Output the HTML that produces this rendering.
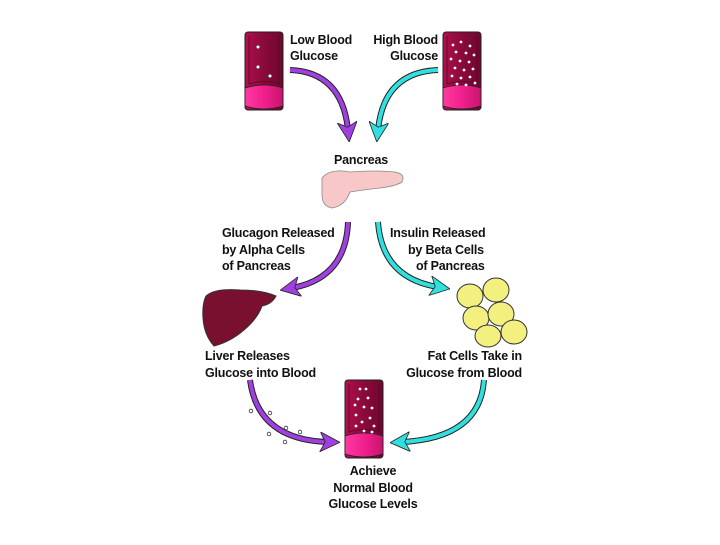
<!DOCTYPE html>
<html><head><style>
body{margin:0;background:#fff}
svg text{font-family:"Liberation Sans",Arial,sans-serif;font-weight:bold;font-size:12.5px;fill:#111;letter-spacing:-0.2px}
</style></head><body>
<svg width="720" height="540" viewBox="0 0 720 540" xmlns="http://www.w3.org/2000/svg">
<defs>
<linearGradient id="tb" x1="0" x2="1"><stop offset="0" stop-color="#b0104f"/><stop offset="0.5" stop-color="#8a0a3a"/><stop offset="1" stop-color="#6e072e"/></linearGradient>
<linearGradient id="bs" x1="0" x2="1"><stop offset="0" stop-color="#ff3aa0"/><stop offset="0.5" stop-color="#f0208c"/><stop offset="1" stop-color="#c8146e"/></linearGradient>
<marker id="ap" markerWidth="5" markerHeight="5" refX="2" refY="2.5" orient="auto"><path d="M0,0 L5,2.5 L0,5 L1.3,2.5z" fill="#a040e0" stroke="#222" stroke-width="0.2"/></marker>
<marker id="ac" markerWidth="5" markerHeight="5" refX="2" refY="2.5" orient="auto"><path d="M0,0 L5,2.5 L0,5 L1.3,2.5z" fill="#30e0e0" stroke="#222" stroke-width="0.2"/></marker>
<g id="tube">
<rect x="0" y="0" width="38" height="78" rx="3" fill="url(#tb)" stroke="#222" stroke-width="1"/>
<path d="M0,56 Q19,50 38,56 L38,74 Q19,80 0,74z" fill="url(#bs)" stroke="#222" stroke-width="0.8"/>
<path d="M4,4 L4,52 Q19,47 34,52 L34,4" fill="none" stroke="#5a0525" stroke-width="0.8"/>
</g>
</defs>
<use href="#tube" x="245" y="32"/>
<g fill="#fff" stroke="#333" stroke-width="0.5"><circle cx="258" cy="47" r="1.8"/><circle cx="258" cy="67" r="1.8"/><circle cx="270" cy="76" r="1.8"/></g>
<use href="#tube" x="443" y="32"/>
<g fill="#fff">
<circle cx="453" cy="45" r="1.4"/><circle cx="461" cy="42" r="1.4"/><circle cx="470" cy="46" r="1.4"/><circle cx="456" cy="52" r="1.4"/><circle cx="466" cy="53" r="1.4"/><circle cx="474" cy="55" r="1.4"/><circle cx="451" cy="59" r="1.4"/><circle cx="460" cy="61" r="1.4"/><circle cx="469" cy="62" r="1.4"/><circle cx="455" cy="68" r="1.4"/><circle cx="464" cy="70" r="1.4"/><circle cx="473" cy="69" r="1.4"/><circle cx="452" cy="76" r="1.4"/><circle cx="461" cy="78" r="1.4"/><circle cx="470" cy="77" r="1.4"/><circle cx="457" cy="84" r="1.4"/><circle cx="466" cy="85" r="1.4"/><circle cx="475" cy="83" r="1.4"/>
</g>
<text x="290" y="44">Low Blood</text><text x="290" y="60">Glucose</text>
<text x="438" y="44" text-anchor="end">High Blood</text><text x="438" y="60" text-anchor="end">Glucose</text>
<path d="M290,70 Q342,72 348,130" fill="none" stroke="#222" stroke-width="6"/>
<path d="M290,70 Q342,72 348,130" fill="none" stroke="#a040e0" stroke-width="4" marker-end="url(#ap)"/>
<path d="M438,70 Q384,72 378,130" fill="none" stroke="#222" stroke-width="6"/>
<path d="M438,70 Q384,72 378,130" fill="none" stroke="#30e0e0" stroke-width="4" marker-end="url(#ac)"/>
<text x="361" y="164" text-anchor="middle">Pancreas</text>
<path d="M322,178 Q330,168 350,172 Q375,170 395,172 Q406,174 402,182 Q396,186 380,188 Q362,190 350,192 Q345,206 332,208 Q322,206 322,195z" fill="#f8c8c8" stroke="#888" stroke-width="0.8"/>
<text x="222" y="237">Glucagon Released</text><text x="222" y="254">by Alpha Cells</text><text x="222" y="270">of Pancreas</text>
<text x="390" y="237">Insulin Released</text><text x="408" y="254">by Beta Cells</text><text x="416" y="270">of Pancreas</text>
<path d="M348,222 Q346,278 292,288" fill="none" stroke="#222" stroke-width="6"/>
<path d="M348,222 Q346,278 292,288" fill="none" stroke="#a040e0" stroke-width="4" marker-end="url(#ap)"/>
<path d="M378,222 Q382,278 438,287" fill="none" stroke="#222" stroke-width="6"/>
<path d="M378,222 Q382,278 438,287" fill="none" stroke="#30e0e0" stroke-width="4" marker-end="url(#ac)"/>
<path d="M206,296 Q215,288 240,290 Q262,290 276,296 Q272,304 262,306 Q258,318 244,330 Q230,342 214,346 Q204,335 203,318 Q202,304 206,296z" fill="#7a1030" stroke="#333" stroke-width="1"/>
<g fill="#f4f080" stroke="#333" stroke-width="1">
<ellipse cx="470" cy="296" rx="13" ry="12"/><ellipse cx="496" cy="290" rx="13" ry="12"/><ellipse cx="476" cy="318" rx="13" ry="12"/><ellipse cx="501" cy="314" rx="13" ry="12"/><ellipse cx="488" cy="336" rx="13" ry="11"/><ellipse cx="514" cy="332" rx="13" ry="12"/>
</g>
<text x="205" y="360">Liver Releases</text><text x="205" y="377">Glucose into Blood</text>
<text x="522" y="360" text-anchor="end">Fat Cells Take in</text><text x="522" y="377" text-anchor="end">Glucose from Blood</text>
<path d="M250,380 Q258,440 328,442" fill="none" stroke="#222" stroke-width="6"/>
<path d="M250,380 Q258,440 328,442" fill="none" stroke="#a040e0" stroke-width="4" marker-end="url(#ap)"/>
<path d="M484,380 Q480,438 402,442" fill="none" stroke="#222" stroke-width="6"/>
<path d="M484,380 Q480,438 402,442" fill="none" stroke="#30e0e0" stroke-width="4" marker-end="url(#ac)"/>
<g fill="#fff" stroke="#333" stroke-width="0.8"><circle cx="251" cy="411" r="1.8"/><circle cx="270" cy="413" r="1.8"/><circle cx="286" cy="428" r="1.8"/><circle cx="300" cy="432" r="1.8"/><circle cx="269" cy="434" r="1.8"/><circle cx="285" cy="442" r="1.8"/></g>
<use href="#tube" x="345" y="380"/>
<g fill="#fff"><circle cx="360" cy="389" r="1.4"/><circle cx="366" cy="389" r="1.4"/><circle cx="358" cy="399" r="1.4"/><circle cx="368" cy="398" r="1.4"/><circle cx="355" cy="405" r="1.4"/><circle cx="364" cy="407" r="1.4"/><circle cx="372" cy="408" r="1.4"/><circle cx="356" cy="415" r="1.4"/><circle cx="370" cy="418" r="1.4"/><circle cx="362" cy="422" r="1.4"/><circle cx="374" cy="426" r="1.4"/><circle cx="356" cy="426" r="1.4"/><circle cx="364" cy="431" r="1.4"/><circle cx="372" cy="432" r="1.4"/></g>
<text x="373" y="475" text-anchor="middle">Achieve</text><text x="373" y="492" text-anchor="middle">Normal Blood</text><text x="373" y="508" text-anchor="middle">Glucose Levels</text>
</svg>
</body></html>
